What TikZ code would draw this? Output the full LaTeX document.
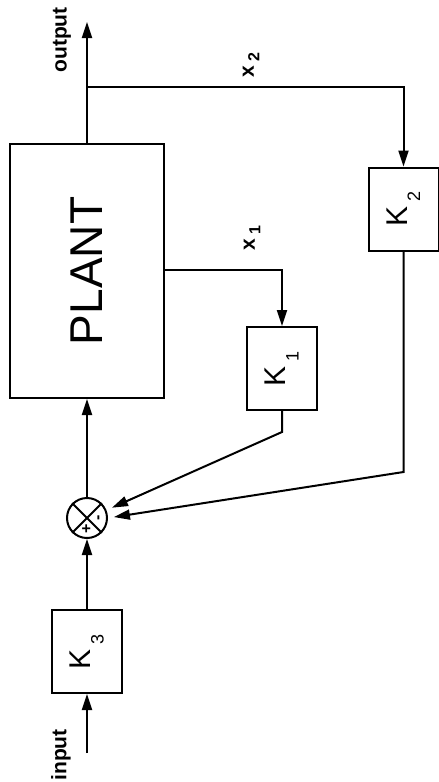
\documentclass[tikz,border=0pt]{standalone}
\usepackage{fontspec}
\setmainfont{Liberation Sans}
\usetikzlibrary{shapes.geometric, arrows, arrows.meta}
\tikzstyle{block} = [
    rectangle,
    minimum width=35pt,
    minimum height=41.5pt,
    line width=1pt,
    draw=black,
    font=\fontsize{15}{17}\selectfont
]
\tikzstyle{plantbox} = [
    rectangle,
    minimum width=77pt,
    minimum height=127pt,
    line width=1pt,
    draw=black,
    font=\fontsize{23}{26}\selectfont
]
\tikzstyle{sum} = [
    circle,
    minimum size=20pt,
    inner sep=0pt,
    line width=1pt,
    draw=black
]
\tikzstyle{sigtext} = [rotate=90, inner sep=0pt, font=\fontsize{10.5}{12}\selectfont\bfseries]
\tikzstyle{sign} = [rotate=90, inner sep=0pt, font=\fontsize{8}{9}\selectfont\bfseries]
\tikzstyle{wire} = [line width=1pt]
\tikzstyle{arrow} = [line width=1pt, -{Triangle[length=8pt,width=5pt]}]

\begin{document}
\begin{tikzpicture}[x=0.5pt, y=-0.5pt]
\useasboundingbox (0,0) rectangle (439,782);

\node (plant) [plantbox] at (87,271) {\rotatebox{90}{PLANT}};

\node (k1) [block] at (282,368.5) {\rotatebox{90}{K\,\raisebox{-0.8ex}{\fontsize{9}{10}\selectfont 1}}};

\node (k2) [block] at (403.5,209) {\rotatebox{90}{K\,\raisebox{-0.8ex}{\fontsize{9}{10}\selectfont 2}}};

\node (k3) [block] at (87,651.5) {\rotatebox{90}{K\,\raisebox{-0.8ex}{\fontsize{9}{10}\selectfont 3}}};

\node (sum) [sum] at (87,518) {};
\draw [wire] (sum.45) -- (sum.225);
\draw [wire] (sum.135) -- (sum.315);
\node (plus) [sign] at (87,529) {+};
\node (minus) [sign] at (100,518) {-};

\coordinate (out) at (87,22);
\coordinate (tap2) at (87,87);
\coordinate (tap1) at (164,270);
\coordinate (bend1) at (282,432);
\coordinate (bend2) at (403.5,472);
\coordinate (in) at (87,753);

\node (output) [sigtext] at (62,40) {output};
\node (input) [sigtext] at (61,755) {input};
\node (x1) [sigtext] at (252,238) {x\,\raisebox{-0.5ex}{\footnotesize 1}};
\node (x2) [sigtext] at (251,65) {x\,\raisebox{-0.5ex}{\footnotesize 2}};

\draw [arrow] (in) -- (k3.south);
\draw [arrow] (k3.north) -- (sum.south);
\draw [arrow] (sum.north) -- (plant.south);
\draw [arrow] (plant.north) -- (out);
\draw [arrow] (tap2) -| (k2.north);
\draw [arrow] (tap1) -| (k1.north);
\draw [arrow, shorten >=3pt] (k1.south) -- (bend1) -- (sum.22);
\draw [arrow, shorten >=3pt] (k2.south) -- (bend2) -- (sum.0);

\end{tikzpicture}
\end{document}
